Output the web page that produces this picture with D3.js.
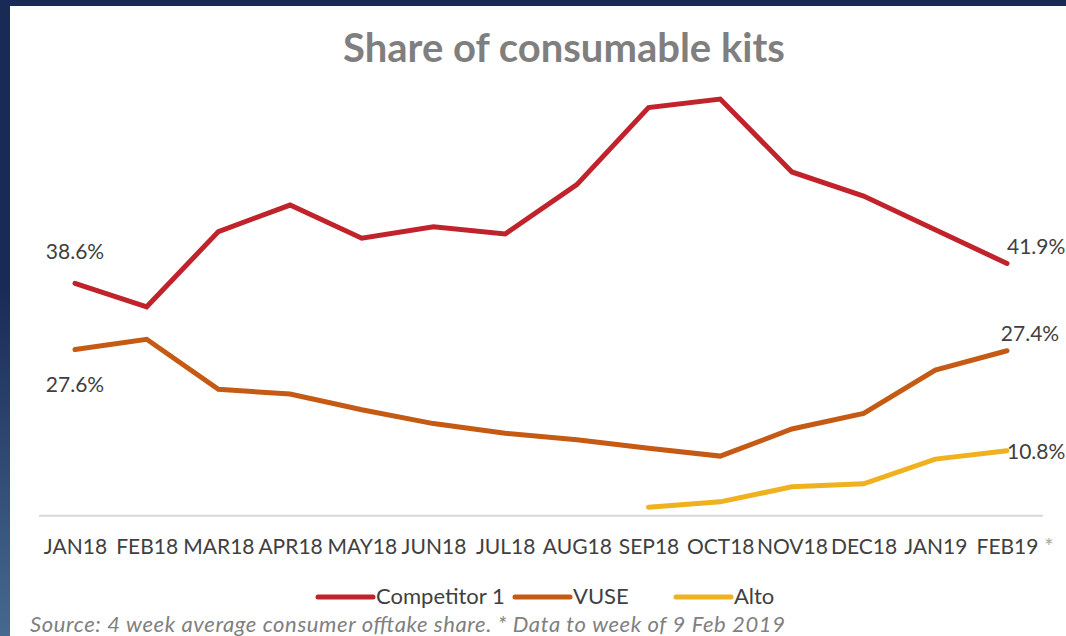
<!DOCTYPE html>
<html>
<head>
<meta charset="utf-8">
<script src="https://cdn.jsdelivr.net/npm/d3@7"></script>
<style>
  body { margin: 0; background: #fff; }
  svg { display: block; }
</style>
</head>
<body>
<div id="chart"></div>
<script>
  // Months on the x axis
  const months = ["JAN18", "FEB18", "MAR18", "APR18", "MAY18", "JUN18", "JUL18",
                  "AUG18", "SEP18", "OCT18", "NOV18", "DEC18", "JAN19", "FEB19"];

  // share values (%), null = no data
  const competitor = [38.6, 34.7, 47.2, 51.6, 46.1, 48.0, 46.8, 55.0, 67.8, 69.2, 57.1, 53.1, 47.5, 41.9];
  const vuse       = [27.6, 29.3, 21.0, 20.2, 17.6, 15.3, 13.7, 12.6, 11.2, 9.9, 14.4, 17.0, 24.2, 27.4];
  const alto       = [null, null, null, null, null, null, null, null, 1.4, 2.3, 4.8, 5.3, 9.4, 10.8];

  const seriesNames = ["Competitor 1", "VUSE", "Alto"];
  const seriesColors = ["#c1232c", "#c55a14", "#f0b11f"];

  const width = 1066, height = 636;
  const font = "Lato, 'Open Sans', sans-serif";

  const svg = d3.select("#chart").append("svg")
    .attr("width", width)
    .attr("height", height);

  // frame: navy strip on top, gradient strip on the left
  const grad = svg.append("defs").append("linearGradient")
    .attr("id", "side")
    .attr("x1", 0).attr("y1", 0).attr("x2", 0).attr("y2", 1);
  grad.append("stop").attr("offset", "0.45").attr("stop-color", "#1a2a57");
  grad.append("stop").attr("offset", "1").attr("stop-color", "#46698f");

  svg.append("rect").attr("x", 0).attr("y", 0).attr("width", width).attr("height", 6).attr("fill", "#1a2a57");
  svg.append("rect").attr("x", 0).attr("y", 0).attr("width", 10).attr("height", height).attr("fill", "url(#side)");

  // scales
  const x = d3.scalePoint()
    .domain(months)
    .range([75, 1007]);

  const y = d3.scaleLinear()
    .domain([0, 70])
    .range([515.7, 515.7 - 70 * 6.02]);

  // title
  svg.append("text")
    .attr("x", 564)
    .attr("y", 62)
    .attr("text-anchor", "middle")
    .attr("font-family", font)
    .attr("font-weight", "bold")
    .attr("font-size", 40)
    .attr("fill", "#7f7f7f")
    .text("Share of consumable kits");

  // baseline
  svg.append("line")
    .attr("x1", 39).attr("x2", 1043)
    .attr("y1", y(0)).attr("y2", y(0))
    .attr("stroke", "#d9d9d9")
    .attr("stroke-width", 2);

  // x axis labels
  const xAxis = d3.axisBottom(x).tickSize(0).tickPadding(0);
  const gx = svg.append("g")
    .attr("transform", "translate(0, 539)")
    .call(xAxis);
  gx.select(".domain").remove();
  gx.selectAll("text")
    .attr("dy", "0.71em")
    .attr("font-family", font)
    .attr("font-size", 21)
    .attr("fill", "#404040");

  svg.append("text")
    .attr("x", 1049)
    .attr("y", 554)
    .attr("text-anchor", "middle")
    .attr("font-family", font)
    .attr("font-size", 22)
    .attr("fill", "#a6a6a6")
    .text("*");

  // lines
  const allSeries = [competitor, vuse, alto];
  const line = d3.line()
    .defined(d => d != null)
    .x((d, i) => x(months[i]))
    .y(d => y(d));

  allSeries.forEach((vals, k) => {
    svg.append("path")
      .datum(vals)
      .attr("d", line)
      .attr("fill", "none")
      .attr("stroke", seriesColors[k])
      .attr("stroke-width", 5)
      .attr("stroke-linejoin", "miter")
      .attr("stroke-linecap", "round");
  });

  // data labels
  const fmt = v => v.toFixed(1) + "%";
  const last = months.length - 1;
  const labels = [
    { v: competitor[0], x: x(months[0]), dy: -24, anchor: "middle" },
    { v: vuse[0], x: x(months[0]), dy: 42, anchor: "middle" },
    { v: competitor[last], x: x(months[last]), dy: -9, anchor: "start" },
    { v: vuse[last], x: x(months[last]) + 23, dy: -10, anchor: "middle" },
    { v: alto[last], x: x(months[last]), dy: 8, anchor: "start" }
  ];
  svg.selectAll(".dlabel")
    .data(labels)
    .enter()
    .append("text")
    .attr("class", "dlabel")
    .attr("x", d => d.x)
    .attr("y", d => y(d.v) + d.dy)
    .attr("text-anchor", d => d.anchor)
    .attr("font-family", font)
    .attr("font-size", 21)
    .attr("fill", "#404040")
    .text(d => fmt(d.v));

  // legend
  const legendX = [318, 515, 676];
  const legend = svg.selectAll(".leg")
    .data(seriesNames)
    .enter()
    .append("g")
    .attr("class", "leg")
    .attr("transform", (d, i) => `translate(${legendX[i]}, 597)`);
  legend.append("line")
    .attr("x1", 0).attr("x2", 55)
    .attr("stroke", (d, i) => seriesColors[i])
    .attr("stroke-width", 5)
    .attr("stroke-linecap", "round");
  legend.append("text")
    .attr("x", 58)
    .attr("y", 7)
    .attr("font-family", font)
    .attr("font-size", 22)
    .attr("fill", "#404040")
    .text(d => d);

  // footnote
  svg.append("text")
    .attr("x", 30)
    .attr("y", 632)
    .attr("font-family", font)
    .attr("font-style", "italic")
    .attr("font-size", 22)
    .attr("textLength", 755)
    .attr("fill", "#808080")
    .text("Source: 4 week average consumer offtake share. * Data to week of 9 Feb 2019");
</script>
</body>
</html>
